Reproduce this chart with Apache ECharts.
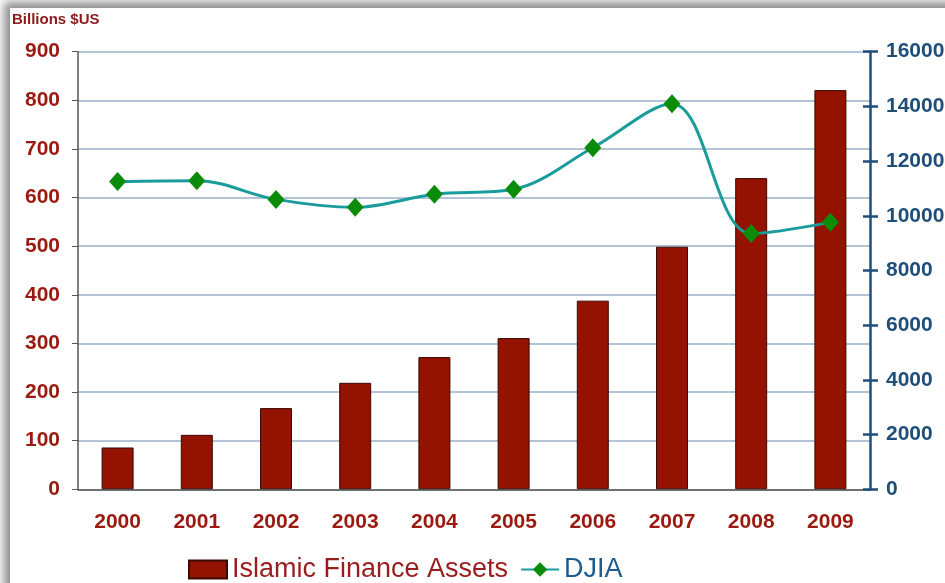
<!DOCTYPE html>
<html>
<head>
    <meta charset="utf-8">
    <title>Islamic Finance Assets vs DJIA</title>
    <style>
        *{ margin:0; padding:0; box-sizing:border-box; }
        html, body{ width:100%; height:100%; overflow:hidden; background:#fff; }
        #frame{
            position:absolute; left:10px; top:8px; width:980px; height:620px;
            background:#fff;
            box-shadow:-3px -3px 9px 3px rgba(0,0,0,0.45);
        }
        #chart{ position:absolute; left:0; top:0; width:945px; height:583px; }
    </style>
</head>
<body>
    <div id="frame"></div>
    <div id="chart"></div>
    <script src="https://cdn.jsdelivr.net/npm/echarts@6/dist/echarts.min.js"></script>
    <script>
        var years = ['2000','2001','2002','2003','2004','2005','2006','2007','2008','2009'];
        // Islamic Finance Assets, billions $US (left axis)
        var assets = [86, 112, 167, 219, 272, 311, 388, 499, 640, 821];
        // DJIA (right axis)
        var djia = [11250, 11280, 10600, 10310, 10790, 10970, 12490, 14100, 9350, 9760];

        var red = '#9b1a10';
        var blue = '#1f4e79';
        var font = 'Liberation Sans, Arial, sans-serif';

        var myChart = echarts.init(document.getElementById('chart'));

        var option = {
            animation: false,
            backgroundColor: 'transparent',
            textStyle: { fontFamily: font },
            graphic: [{
                type: 'text',
                left: 12,
                top: 12,
                style: {
                    text: 'Billions $US',
                    fill: '#8b1a1a',
                    font: 'bold 15px ' + font
                }
            }],
            grid: {
                left: 78,
                right: 75,
                top: 51.7,
                bottom: 93.7,
                outerBoundsMode: 'none',
                containLabel: false
            },
            legend: {
                left: 183,
                top: 551,
                itemWidth: 38,
                itemHeight: 18,
                itemGap: 12,
                data: [
                    { name: 'Islamic Finance Assets', icon: 'rect', textStyle: { color: '#9b1c1c' } },
                    { name: 'DJIA', textStyle: { color: '#1f5b8f' } }
                ],
                textStyle: { fontSize: 27, fontFamily: font }
            },
            xAxis: {
                type: 'category',
                data: years,
                axisLine: { lineStyle: { color: '#555', width: 1.5 } },
                axisTick: { length: 7, lineStyle: { color: '#555' } },
                axisLabel: {
                    color: red,
                    fontWeight: 'bold',
                    fontSize: 21,
                    margin: 22
                }
            },
            yAxis: [{
                type: 'value',
                min: 0,
                max: 900,
                interval: 100,
                axisLine: { show: true, lineStyle: { color: '#555', width: 1.5 } },
                axisTick: { show: true, length: 6, lineStyle: { color: '#555' } },
                axisLabel: {
                    color: red,
                    fontWeight: 'bold',
                    fontSize: 21,
                    margin: 18
                },
                splitLine: { lineStyle: { color: '#98b1c8', width: 1.5 } }
            }, {
                type: 'value',
                position: 'right',
                min: 0,
                max: 16000,
                interval: 2000,
                axisLine: { show: true, lineStyle: { color: blue, width: 2.5 } },
                axisTick: { show: true, length: 8, lineStyle: { color: blue, width: 2.5 } },
                axisLabel: {
                    color: blue,
                    fontWeight: 'bold',
                    fontSize: 21,
                    margin: 16,
                    formatter: function (v) { return String(v); }
                },
                splitLine: { show: false }
            }, {
                // inner half of the right-hand crossing ticks
                type: 'value',
                position: 'right',
                min: 0,
                max: 16000,
                interval: 2000,
                axisLine: { show: false },
                axisTick: { show: true, inside: true, length: 7, lineStyle: { color: blue, width: 2.5 } },
                axisLabel: { show: false },
                splitLine: { show: false }
            }],
            series: [{
                name: 'Islamic Finance Assets',
                type: 'bar',
                data: assets,
                barWidth: 32,
                itemStyle: {
                    color: '#931200',
                    borderColor: '#3a0a04',
                    borderWidth: 1
                },
                z: 2
            }, {
                name: 'DJIA',
                type: 'line',
                yAxisIndex: 1,
                data: djia,
                smooth: 0.35,
                symbol: 'diamond',
                symbolSize: [17, 19],
                itemStyle: { color: '#0a8c0a' },
                lineStyle: { color: '#1a9c9c', width: 3 },
                z: 3
            }]
        };

        if (option && typeof option === "object") {
            myChart.setOption(option, true);
        }
    </script>
</body>
</html>
